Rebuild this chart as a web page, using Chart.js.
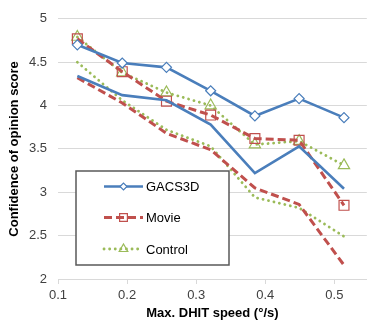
<!DOCTYPE html>
<html>
<head>
<meta charset="utf-8">
<script src="https://cdn.jsdelivr.net/npm/chart.js@4"></script>
<style>
  html, body { margin: 0; padding: 0; background: #fff; }
  #wrap { width: 375px; height: 326px; }
</style>
</head>
<body>
<div id="wrap"><canvas id="speedChart" width="375" height="326"></canvas></div>
<script>
//Data
const speeds = [0.128, 0.193, 0.257, 0.321, 0.385, 0.449, 0.514];
const gacsMarked = [4.70, 4.49, 4.44, 4.17, 3.88, 4.08, 3.86];
const gacsLow = [4.34, 4.12, 4.06, 3.78, 3.22, 3.53, 3.04];
const movieMarked = [4.77, 4.39, 4.05, 3.89, 3.62, 3.60, 2.85];
const movieLow = [4.32, 4.03, 3.68, 3.49, 3.05, 2.86, 2.16];
const controlMarked = [4.79, 4.38, 4.15, 4.00, 3.55, 3.59, 3.31];
const controlLow = [4.50, 4.06, 3.72, 3.53, 2.94, 2.82, 2.49];
const xTicks = [0.1, 0.2, 0.3, 0.4, 0.5];
const legendNames = ["GACS3D", "Movie", "Control"];

const blue = "#4a7ebb";
const red = "#c0504d";
const green = "#9bbb59";
const font = "'Liberation Sans', Arial, sans-serif";

function pts(ys) {
  return speeds.map((s, i) => ({x: s, y: ys[i]}));
}

//Line styles per group
const styles = [
  {color: blue, dash: [], width: 2.6, cap: "butt", marker: "rectRot", r: 5, fill: "#fff"},
  {color: red, dash: [8, 4], width: 3, cap: "butt", marker: "rect", r: 7, fill: "rgba(0,0,0,0)"},
  {color: green, dash: [0.1, 5.5], width: 2.8, cap: "round", marker: "triangle", r: 6.5, fill: "rgba(0,0,0,0)"},
];

function lineSet(ys, st, withMarkers) {
  return {
    data: pts(ys),
    borderColor: st.color,
    borderWidth: st.width,
    borderDash: st.dash,
    borderCapStyle: st.cap,
    tension: 0,
    fill: false,
    pointStyle: st.marker,
    pointRadius: withMarkers ? st.r : 0,
    pointHoverRadius: withMarkers ? st.r : 0,
    pointBorderWidth: 1.2,
    pointBorderColor: st.color,
    pointBackgroundColor: st.fill,
  };
}

const data = {
  datasets: [
    lineSet(gacsLow, styles[0], false),
    lineSet(movieLow, styles[1], false),
    lineSet(controlLow, styles[2], false),
    lineSet(gacsMarked, styles[0], true),
    lineSet(movieMarked, styles[1], true),
    lineSet(controlMarked, styles[2], true),
  ],
};

//Boxed legend drawn inside the plot
const boxLegend = {
  id: "boxLegend",
  afterDraw(chart) {
    const c = chart.ctx;
    const bx = 76, by = 171, bw = 153, bh = 94;
    c.save();
    c.fillStyle = "#fff";
    c.fillRect(bx, by, bw, bh);
    c.strokeStyle = "#595959";
    c.lineWidth = 1.5;
    c.strokeRect(bx, by, bw, bh);
    const rows = [186.5, 217.5, 249];
    const smallR = [3.5, 5.5, 5];
    legendNames.forEach((name, i) => {
      const st = styles[i];
      const y = rows[i];
      c.strokeStyle = st.color;
      c.lineWidth = st.width;
      c.lineCap = st.cap;
      c.setLineDash(st.dash);
      c.beginPath();
      c.moveTo(104, y);
      c.lineTo(143, y);
      c.stroke();
      c.setLineDash([]);
      c.lineCap = "butt";
      c.lineWidth = 1.2;
      c.strokeStyle = st.color;
      c.fillStyle = st.fill;
      Chart.helpers.drawPoint(c, {pointStyle: st.marker, radius: smallR[i], borderWidth: 1.2}, 123.5, y);
      c.fillStyle = "#000";
      c.font = "13px " + font;
      c.textBaseline = "middle";
      c.textAlign = "left";
      c.fillText(name, 146, y + 1);
    });
    c.restore();
  },
};

const config = {
  type: "line",
  data: data,
  options: {
    responsive: false,
    animation: false,
    layout: {padding: {top: 15, right: 0, left: 0, bottom: 0}},
    plugins: {legend: {display: false}, tooltip: {enabled: false}},
    scales: {
      x: {
        type: "linear",
        min: 0.1,
        max: 0.547,
        afterBuildTicks: (s) => { s.ticks = xTicks.map(v => ({value: v})); },
        afterFit: (s) => { s.height = 47; },
        grid: {drawOnChartArea: false, drawTicks: true, tickLength: 5, color: "#d9d9d9"},
        border: {color: "#d9d9d9"},
        ticks: {color: "#404040", font: {family: font, size: 13}, padding: 4, maxRotation: 0,
          callback: (v) => String(Math.round(v * 10) / 10)},
        title: {display: true, text: "Max. DHIT speed (°/s)", color: "#000",
          font: {family: font, size: 13, weight: "bold"}, padding: {top: 0, bottom: 5}},
      },
      y: {
        min: 2,
        max: 5,
        afterFit: (s) => { s.width = 58; },
        grid: {color: "#d9d9d9", drawTicks: false},
        border: {display: false},
        ticks: {stepSize: 0.5, color: "#404040", font: {family: font, size: 13}, padding: 11,
          callback: (v) => String(Math.round(v * 10) / 10)},
        title: {display: true, text: "Confidence of opinion score", color: "#000",
          font: {family: font, size: 13, weight: "bold"}, padding: {top: 7, bottom: 0}},
      },
    },
  },
  plugins: [boxLegend],
};

const speedChart = new Chart(document.getElementById("speedChart"), config);
</script>
</body>
</html>
